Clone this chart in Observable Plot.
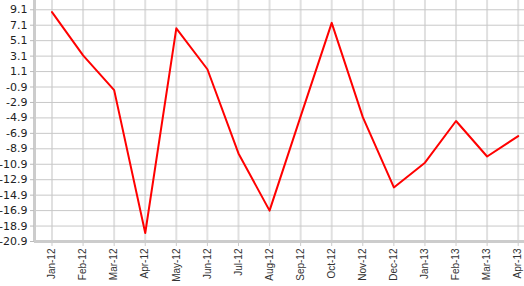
<!DOCTYPE html>
<html><head><meta charset="utf-8">
<script src="https://cdn.jsdelivr.net/npm/d3@7"></script>
<script src="https://cdn.jsdelivr.net/npm/@observablehq/plot@0.6"></script>
<style>html,body{margin:0;padding:0;background:#fff;} svg{display:block}</style>
</head><body><div id="chart"></div>
<script>
const months = ["Jan-12","Feb-12","Mar-12","Apr-12","May-12","Jun-12","Jul-12","Aug-12","Sep-12","Oct-12","Nov-12","Dec-12","Jan-13","Feb-13","Mar-13","Apr-13"];
const values = [8.8, 3.2, -1.3, -19.8, 6.7, 1.4, -9.5, -16.9, -4.7, 7.4, -4.8, -13.9, -10.7, -5.3, -9.9, -7.25];
const yTicks = [9.1, 7.1, 5.1, 3.1, 1.1, -0.9, -2.9, -4.9, -6.9, -8.9, -10.9, -12.9, -14.9, -16.9, -18.9, -20.9];
const idx = months.map((_, i) => i);
const data = months.map((m, i) => ({i, m, v: values[i]}));
const xDomain = [-0.563, 15.203];
const yDomain = [-20.9, 10.3];

const chart = Plot.plot({
  width: 524, height: 286,
  marginLeft: 34, marginRight: 0, marginTop: 0, marginBottom: 45,
  x: {domain: xDomain},
  y: {domain: yDomain},
  marks: [
    Plot.ruleX(idx, {stroke: "#e0e0e0", strokeWidth: 2}),
    Plot.ruleY(yTicks, {stroke: "#c8c8c8", strokeWidth: 1}),
    Plot.ruleY([yDomain[0]], {stroke: "#cccccc", strokeWidth: 3}),
    Plot.ruleX([xDomain[0]], {stroke: "#cccccc", strokeWidth: 3}),
    Plot.axisY({ticks: yTicks, tickSize: 4, tickPadding: 3, tickFormat: d => d.toFixed(1),
      stroke: "#bbbbbb", fill: "#222", fontFamily: "DejaVu Sans", fontSize: 11, label: null}),
    Plot.axisX({ticks: idx, tickSize: 5, tickPadding: 2, tickRotate: -90, tickFormat: i => months[i],
      stroke: "#cccccc", fill: "#333", fontFamily: "Liberation Sans", fontSize: 10, label: null}),
    Plot.line(data, {x: "i", y: "v", stroke: "#ff0000", strokeWidth: 2})
  ]
});
document.getElementById("chart").appendChild(chart);
</script>
</body></html>
